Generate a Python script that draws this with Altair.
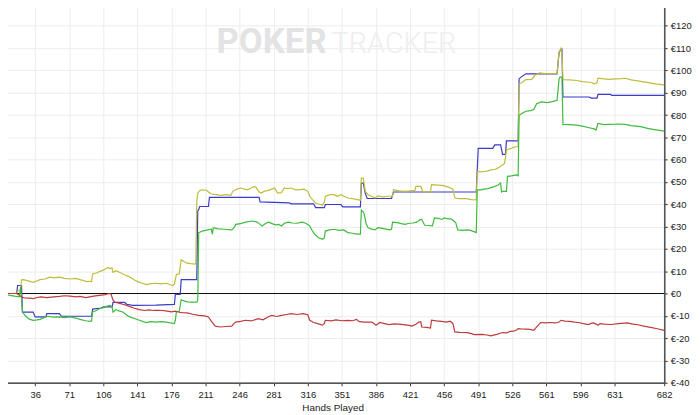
import altair as alt
import pandas as pd

# ---- data: (hand number, cumulative winnings in €) ----
blue = [(1, 0), (17, 0), (18, 3.6), (22, 3.6), (23, -8.3), (34, -8.3), (36, -10.5), (47, -10.5),
        (48, -9), (61, -9), (63, -10.2), (94, -10.2), (95, -7), (104, -6.5), (106, -6), (115, -6),
        (116, -4), (128, -4), (130, -4.8), (136, -5.3), (160, -5.2), (179, -4.9), (180, -0.4),
        (185, -0.4), (186, 6.2), (202, 6.2), (203, 37), (204, 37.7), (205, 39), (214, 39), (215, 43.1),
        (266, 43.1), (267, 41.1), (297, 40.6), (299, 40.2), (322, 40.2), (324, 38.5), (333, 38.5),
        (334, 39.9), (350, 39.9), (352, 38.8), (370, 38.8), (371, 49.5), (373, 49.5), (375, 45),
        (377, 42.6), (402, 42.6), (404, 45.5), (489, 45.5), (491, 65.1), (506, 65.1), (508, 66.6),
        (514, 66.6), (516, 62.4), (519, 62.4), (520, 68.4), (532, 68.4), (533, 96.2), (535, 97),
        (540, 98.5), (572, 98.5), (574, 108), (576, 109.6), (577, 109.6), (578, 88.1), (605, 88.1),
        (607, 87.6), (613, 87.6), (614, 89.3), (627, 89.3), (628, 88.8), (682, 88.8)]

yellow = [(1, 0), (17, 0), (18, 1), (21, 1.5), (22, 6.1), (24, 6.2), (28, 5.8), (34, 5), (37, 5.5),
          (41, 6.2), (46, 6.5), (51, 7.3), (56, 7), (61, 7.3), (66, 6.8), (72, 6.5), (78, 6.8), (82, 6.2),
          (86, 5.8), (89, 5.3), (93, 5.5), (94, 5.3), (95, 8.8), (99, 9.2), (102, 9.8), (106, 10.5),
          (109, 11.2), (111, 11.7), (113, 11.2), (115, 11.5), (116, 9.5), (119, 10.2), (123, 9.4),
          (127, 8.5), (130, 8), (134, 7.2), (138, 6.1), (143, 5), (147, 4.5), (150, 4), (155, 4.4),
          (160, 4.6), (165, 4.3), (171, 4.6), (175, 3.9), (177, 3.6), (179, 4.2), (181, 8.5), (184, 8.8),
          (186, 15.1), (188, 14.6), (192, 13.6), (196, 13.4), (201, 13.2), (202, 41), (203, 45),
          (205, 46.1), (207, 46.5), (212, 46.3), (214, 45.5), (217, 44.6), (222, 44.3), (227, 44),
          (232, 44.3), (237, 44), (239, 45.8), (243, 46.8), (247, 47.3), (251, 46.8), (254, 46.5),
          (258, 47.3), (261, 48), (263, 47.5), (266, 45.5), (268, 45), (272, 46), (275, 46.1),
          (279, 46.8), (282, 47.3), (285, 45), (289, 45.2), (292, 47.3), (295, 47), (299, 47.3),
          (303, 46.6), (306, 46.5), (312, 46.8), (316, 45.8), (318, 43.6), (321, 42), (324, 40.6),
          (328, 40), (331, 39.6), (333, 41), (334, 43.6), (339, 44.3), (343, 44.3), (346, 43.6),
          (350, 44.3), (353, 43.6), (357, 42.8), (362, 42.5), (367, 42.1), (370, 41.8), (371, 51.7),
          (373, 51.7), (375, 45.8), (378, 44.3), (382, 43.5), (385, 42.8), (388, 43.8), (393, 43.3),
          (398, 43.6), (403, 43.6), (404, 46.5), (410, 46), (416, 45.8), (421, 46), (426, 46.2),
          (427, 48), (432, 48), (434, 45.8), (438, 45.6), (442, 45.5), (443, 48.8), (450, 48.6),
          (454, 48.5), (458, 48), (461, 47.6), (465, 46.8), (467, 42.8), (472, 42.5), (479, 42.5),
          (484, 42.1), (489, 42), (490, 54.7), (494, 54.5), (497, 54.7), (501, 55), (504, 55.4),
          (508, 55.6), (511, 56.2), (514, 57), (516, 57.7), (518, 58.2), (519, 61), (520, 64.4),
          (525, 65.1), (528, 65.6), (530, 65.8), (532, 65.8), (533, 94), (536, 94.6), (540, 95.9),
          (546, 96), (549, 97.7), (552, 98.5), (554, 98.9), (559, 98.6), (565, 98.6), (572, 98.6),
          (574, 108), (576, 110), (577, 108), (578, 95.9), (585, 95.8), (592, 95.5), (598, 95),
          (605, 94.7), (608, 94.5), (610, 94), (613, 94.5), (614, 96.5), (620, 96.2), (625, 96),
          (632, 96.2), (638, 96.3), (642, 96.5), (648, 95.8), (655, 95.3), (659, 95), (666, 94.5),
          (673, 94), (682, 93.5)]

green = [(1, 0), (5, -0.3), (10, -0.8), (15, -1.2), (20, -1.5), (21, 3), (22, -1), (23, -8.3), (26, -10),
         (30, -11.5), (34, -12), (38, -11.8), (41, -11.6), (45, -10.8), (48, -10.2), (55, -10.6),
         (61, -10.5), (66, -10.8), (72, -10.5), (78, -11), (82, -11.6), (88, -12.2), (92, -12.5),
         (94, -12.3), (95, -8.3), (99, -7.6), (102, -6.8), (106, -6.3), (110, -5.6), (113, -5.3),
         (115, -6), (116, -8.3), (119, -7.2), (122, -7.8), (126, -8.3), (130, -9.6), (133, -10.5),
         (138, -11.2), (143, -12), (147, -12.6), (150, -13), (155, -12.6), (160, -12.8), (166, -12.6),
         (171, -12.8), (175, -13.2), (179, -13.5), (180, -12), (181, -8.3), (184, -8), (186, -2.8),
         (190, -3.5), (195, -3.9), (202, -3.9), (203, -3), (204, 27.3), (208, 28), (213, 28.5),
         (217, 28.8), (218, 26.6), (219, 29.5), (224, 29), (230, 28.8), (238, 28.5), (241, 30),
         (242, 31), (247, 31.3), (252, 32), (259, 32.5), (264, 32), (267, 31), (269, 30.3), (273, 31.5),
         (276, 32), (280, 31.2), (283, 30.8), (286, 31), (289, 30.3), (292, 31.5), (296, 32),
         (300, 31.6), (305, 31.5), (310, 32), (314, 31.5), (318, 30.3), (320, 28.6), (323, 26.6),
         (327, 25), (331, 24.3), (333, 25), (334, 28), (338, 28.5), (343, 28.8), (348, 28.3),
         (353, 28.5), (357, 27.3), (362, 27), (366, 26.6), (370, 26.6), (371, 37.4), (373, 36.5),
         (374, 35.5), (376, 31), (378, 29.5), (381, 29), (385, 28.5), (388, 29.5), (391, 29.3),
         (395, 29), (400, 28.5), (402, 28.8), (403, 32), (408, 31.8), (412, 31.3), (416, 31),
         (420, 31.5), (424, 31.6), (428, 32), (431, 33), (433, 33.2), (435, 31.5), (436, 30.6),
         (440, 30.5), (444, 30.3), (446, 33.9), (450, 33.7), (454, 33.2), (456, 33.9), (460, 33.5),
         (463, 33.5), (466, 32.5), (468, 31.7), (470, 28.5), (475, 28.3), (480, 28.5), (483, 28.3),
         (488, 27.5), (489, 27.3), (490, 46.5), (494, 46.5), (497, 46.8), (501, 47), (505, 47.6),
         (508, 48), (511, 48.5), (514, 49.5), (515, 45.5), (516, 45.8), (520, 45.8), (521, 52.5),
         (525, 52.7), (530, 53.2), (532, 52.8), (533, 79.9), (537, 81), (540, 81.7), (545, 82),
         (548, 82.5), (551, 85.1), (556, 85.9), (562, 85.6), (567, 86), (572, 86.6), (574, 96),
         (575, 97), (577, 97), (578, 75.8), (585, 75.7), (592, 75.5), (598, 75), (605, 74.3),
         (610, 73.8), (612, 73.3), (614, 76.2), (620, 75.7), (625, 75.8), (632, 75.9), (636, 76),
         (642, 75.8), (648, 75.3), (655, 74.9), (659, 74.7), (665, 74), (672, 73.5), (682, 72.8)]

red = [(1, 0), (17, 0), (19, -0.5), (22, -1.5), (25, -2), (30, -2.1), (34, -2.3), (38, -1.8), (42, -1.5),
       (48, -1.8), (55, -1.5), (61, -1.3), (66, -1), (72, -1.2), (78, -1.5), (82, -1.3), (88, -1.8),
       (92, -1.5), (96, -1.2), (102, -0.8), (108, -0.5), (112, 0), (114, -0.3), (116, -3), (118, -3.9),
       (122, -4.3), (126, -4.8), (130, -5.3), (134, -6), (138, -6.6), (143, -7.2), (148, -7.6),
       (153, -7.3), (158, -7.6), (164, -7.5), (170, -7.8), (176, -8.2), (180, -7.9), (184, -8.4),
       (187, -8.6), (192, -8.7), (198, -9.3), (204, -9.8), (210, -10), (214, -10.5), (217, -12.5),
       (221, -14.6), (226, -15), (232, -14.8), (238, -14.6), (240, -13.5), (242, -12.8), (247, -12.5),
       (252, -12), (258, -12.3), (265, -11.3), (270, -11.8), (275, -10.5), (279, -9.8), (284, -10.3),
       (289, -9.8), (294, -9.4), (299, -9), (305, -9.4), (311, -9), (316, -9.5), (318, -12), (322, -13),
       (326, -13.5), (331, -14.2), (333, -13.5), (334, -12), (340, -12.3), (345, -11.8), (351, -12.2),
       (357, -12), (362, -12.2), (366, -11.6), (369, -12.6), (374, -12.8), (382, -12.8), (386, -14.2),
       (390, -13), (395, -13.5), (399, -13.9), (405, -13.6), (412, -13.8), (420, -14.3), (423, -14.6),
       (427, -13.8), (430, -12.8), (432, -12.6), (433, -15), (438, -15.2), (442, -15.5), (443, -12),
       (448, -12.3), (453, -12.5), (458, -12.8), (462, -12.4), (465, -13.4), (467, -17.2), (472, -17.4),
       (480, -17.5), (484, -18), (487, -18.4), (495, -18.3), (500, -18.6), (504, -19), (510, -18.3),
       (516, -17.5), (520, -17.6), (524, -17), (527, -16.9), (530, -16.5), (532, -15.7), (536, -15.9),
       (540, -16), (544, -16.1), (548, -16.5), (552, -14.5), (555, -13), (560, -13.2), (564, -13),
       (570, -13.2), (574, -12.8), (576, -12), (580, -12.4), (585, -12.5), (590, -12.8), (594, -13),
       (599, -13.5), (604, -13.9), (607, -13.4), (609, -13.2), (612, -13.7), (614, -14.2), (616, -13.5),
       (620, -13.7), (627, -13.9), (635, -13.5), (644, -13.2), (650, -13.7), (655, -14), (661, -14.6),
       (668, -15.2), (675, -15.8), (682, -16.5)]

series_names = ["Red", "Green", "Yellow", "Blue"]
series_colors = ["#BE3B3B", "#3DBB3D", "#BDBD3A", "#3B3BC8"]
x_ticks = [1, 36, 71, 106, 141, 176, 211, 246, 281, 316, 351, 386, 421, 456, 491, 526, 561, 596, 631, 682]
y_ticks = list(range(-40, 140, 10))

rows = []
for name, pts in [("Blue", blue), ("Yellow", yellow), ("Green", green), ("Red", red)]:
    for h, v in pts:
        rows.append({"hand": h, "value": v, "series": name})
df = pd.DataFrame(rows)

FONT = "Liberation Sans"

x_scale = alt.Scale(domain=[1, 682], nice=False, zero=False)
y_scale = alt.Scale(domain=[-40, 130], nice=False, zero=False)
x_axis = alt.Axis(values=x_ticks, title="Hands Played", labelFontSize=9.5, titleFontSize=10,
                  titleFontWeight="normal", labelColor="#222", titleColor="#222",
                  labelFont=FONT, titleFont=FONT, tickSize=3, tickColor="#333", labelPadding=4,
                  titlePadding=3, grid=True, gridColor="#ececec", domainColor="#555", domainWidth=1.5,
                  labelFlush=False, labelOverlap=False)
y_axis = alt.Axis(orient="right", values=y_ticks, labelExpr="'€' + datum.value", title=None,
                  labelFontSize=9.5, labelColor="#222", labelFont=FONT, tickSize=3,
                  tickColor="#333", labelPadding=3, grid=True, gridColor="#ececec",
                  domainColor="#555", domainWidth=1.5, labelFlush=False, labelOverlap=False)

lines = alt.Chart(df).mark_line(strokeWidth=1.2).encode(
    x=alt.X("hand:Q", scale=x_scale, axis=x_axis),
    y=alt.Y("value:Q", scale=y_scale, axis=y_axis),
    color=alt.Color("series:N", scale=alt.Scale(domain=series_names, range=series_colors), legend=None),
)

zero = alt.Chart(pd.DataFrame({"value": [0]})).mark_rule(color="#111", strokeWidth=1).encode(
    y=alt.Y("value:Q", scale=y_scale, axis=y_axis))

wm1 = alt.Chart(pd.DataFrame({"t": ["POKER"]})).mark_text(
    align="right", baseline="alphabetic", font="Roboto", fontSize=35, fontWeight="bold",
    color="#e3e3e3").encode(text="t:N", x=alt.value(328), y=alt.value(50))
wm2 = alt.Chart(pd.DataFrame({"t": ["TRACKER"]})).mark_text(
    align="left", baseline="alphabetic", font="Roboto", fontSize=29, fontWeight=300,
    color="#eeeeee").encode(text="t:N", x=alt.value(333), y=alt.value(50))

chart = alt.layer(wm1, wm2, zero, lines).properties(
    width=668, height=382,
    padding={"left": -10, "top": -11, "right": 0, "bottom": 0},
    background="white",
).configure_view(stroke="#222", strokeWidth=1)

chart.save("out.html", embed_options={"renderer": "svg", "actions": False})
